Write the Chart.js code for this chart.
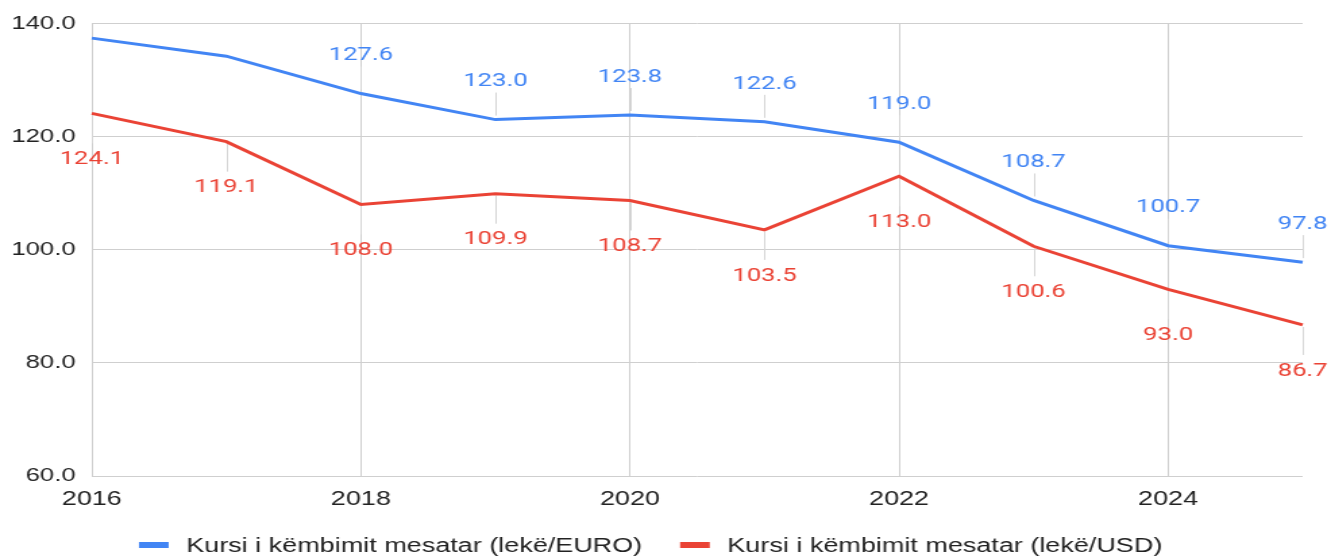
<!DOCTYPE html>
<html>
<head>
<meta charset="utf-8">
<script src="https://cdn.jsdelivr.net/npm/chart.js@4"></script>
<style>
html, body { margin: 0; padding: 0; background: #fff; }
</style>
</head>
<body>
<!-- the source picture is stretched sideways, so the canvas is too -->
<canvas id="chart" width="986" height="558" style="display:block;width:1331px;height:558px"></canvas>
<script>
var years = ['2016', '2017', '2018', '2019', '2020', '2021', '2022', '2023', '2024', '2025'];
var eurValues = [137.4, 134.2, 127.6, 123.0, 123.8, 122.6, 119.0, 108.7, 100.7, 97.8];
var usdValues = [124.1, 119.1, 108.0, 109.9, 108.7, 103.5, 113.0, 100.6, 93.0, 86.7];
var yMin = 60, yMax = 140, yStep = 20;
var seriesNames = ['Kursi i këmbimit mesatar (lekë/EURO)', 'Kursi i këmbimit mesatar (lekë/USD)'];

var blue = '#4285F4';
var red = '#EA4335';
var gridColor = '#cfcfcf';
var axisFont = '"Liberation Sans", Arial, sans-serif';

// labels above the first series, below the second, with a thin leader line
function labelPos(chart, dsIndex, pt) {
	if (dsIndex === 0) {
		var y = pt.y - 38;
		if (y < chart.chartArea.top + 12) return null;
		return { y: y, l1: pt.y - 4, l2: pt.y - 27 };
	}
	return { y: pt.y + 46, l1: pt.y + 2, l2: pt.y + 30 };
}

var valueLabels = {
	id: 'valueLabels',
	beforeDatasetsDraw: function (chart) {
		var ctx = chart.ctx;
		ctx.save();
		ctx.strokeStyle = '#d6d6d6';
		ctx.lineWidth = 1;
		chart.data.datasets.forEach(function (ds, i) {
			chart.getDatasetMeta(i).data.forEach(function (pt) {
				var p = labelPos(chart, i, pt);
				if (!p) return;
				ctx.beginPath();
				ctx.moveTo(Math.round(pt.x) + 0.5, p.l1);
				ctx.lineTo(Math.round(pt.x) + 0.5, p.l2);
				ctx.stroke();
			});
		});
		ctx.restore();
	},
	afterDatasetsDraw: function (chart) {
		var ctx = chart.ctx;
		ctx.save();
		ctx.font = '19px Roboto, sans-serif';
		ctx.textAlign = 'center';
		ctx.textBaseline = 'middle';
		chart.data.datasets.forEach(function (ds, i) {
			ctx.fillStyle = ds.borderColor;
			chart.getDatasetMeta(i).data.forEach(function (pt, j) {
				var p = labelPos(chart, i, pt);
				if (!p) return;
				ctx.fillText(ds.data[j].toFixed(1), pt.x, p.y);
			});
		});
		ctx.restore();
	}
};

var bottomLegend = {
	id: 'bottomLegend',
	afterDraw: function (chart) {
		var ctx = chart.ctx;
		var boxW = 22, boxH = 6, gap = 13, itemGap = 28, y = 545;
		ctx.save();
		ctx.font = '20px ' + axisFont;
		ctx.textBaseline = 'middle';
		var items = chart.data.datasets.map(function (ds) {
			return { text: ds.label, color: ds.borderColor, w: ctx.measureText(ds.label).width };
		});
		var total = 0;
		items.forEach(function (it, i) {
			total += boxW + gap + it.w + (i ? itemGap : 0);
		});
		var x = (chart.width - total) / 2 - 11;
		items.forEach(function (it) {
			ctx.fillStyle = it.color;
			ctx.fillRect(x, y - boxH / 2, boxW, boxH);
			ctx.fillStyle = '#222';
			ctx.fillText(it.text, x + boxW + gap, y + 1);
			x += boxW + gap + it.w + itemGap;
		});
		ctx.restore();
	}
};

new Chart(document.getElementById('chart'), {
	type: 'line',
	data: {
		labels: years,
		datasets: [{
			label: seriesNames[0],
			data: eurValues,
			borderColor: blue,
			backgroundColor: blue,
			borderWidth: 3,
			pointRadius: 0,
			tension: 0
		}, {
			label: seriesNames[1],
			data: usdValues,
			borderColor: red,
			backgroundColor: red,
			borderWidth: 3,
			pointRadius: 0,
			tension: 0
		}]
	},
	options: {
		responsive: false,
		animation: false,
		devicePixelRatio: 1,
		layout: { padding: { top: 22, left: 0, right: 21, bottom: 36 } },
		plugins: {
			legend: { display: false },
			tooltip: { enabled: false }
		},
		scales: {
			x: {
				grid: {
					color: function (c) { return c.index % 2 === 0 && c.index < years.length - 1 ? gridColor : 'rgba(0,0,0,0)'; },
					drawTicks: false
				},
				border: { display: false },
				ticks: {
					autoSkip: false,
					maxRotation: 0,
					padding: 11,
					color: '#222',
					font: { family: axisFont, size: 20 },
					callback: function (v, i) { return i % 2 === 0 ? years[i] : ''; }
				}
			},
			y: {
				min: yMin,
				max: yMax,
				afterFit: function (axis) { axis.width = 68; },
				grid: { color: gridColor, drawTicks: false },
				border: { display: false },
				ticks: {
					stepSize: yStep,
					padding: 12,
					color: '#222',
					font: { family: axisFont, size: 19 },
					callback: function (v) { return v.toFixed(1); }
				}
			}
		}
	},
	plugins: [valueLabels, bottomLegend]
});
</script>
</body>
</html>
